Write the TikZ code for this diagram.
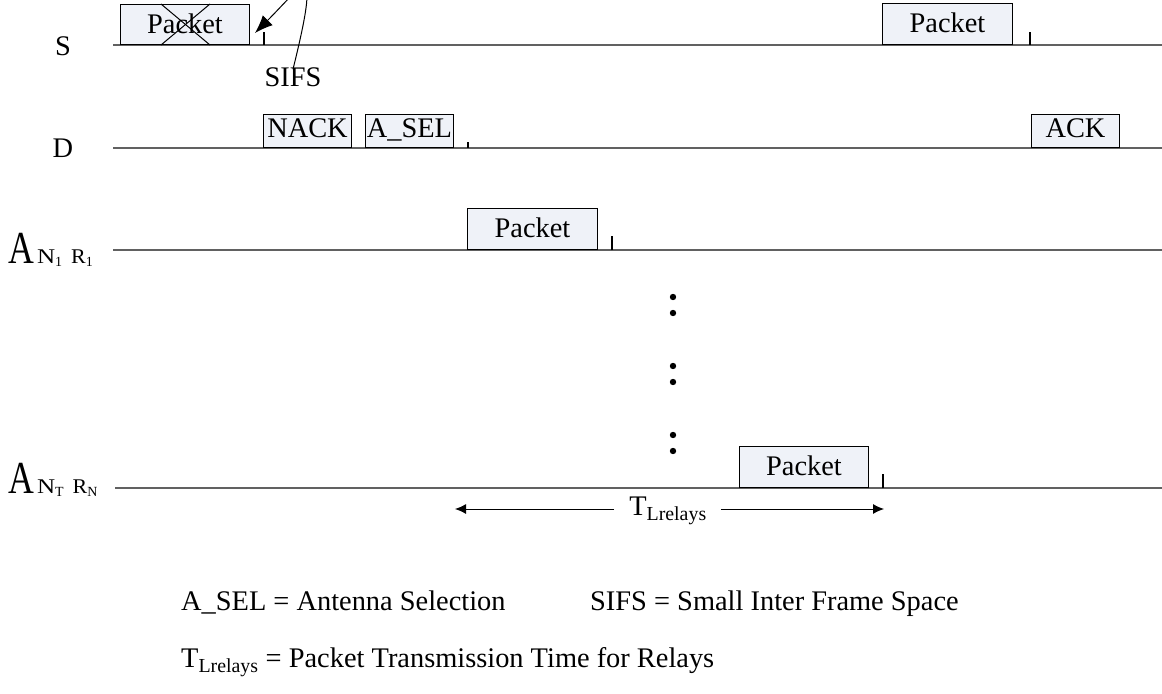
\documentclass[tikz,border=0pt]{standalone}
\usepackage{fontspec}
\setmainfont{Liberation Serif}
\usetikzlibrary{positioning,calc,arrows.meta}

\definecolor{boxfill}{RGB}{239,242,248}
\newcommand{\antlabel}[2]{{\fontsize{46}{46}\selectfont\scalebox{0.78}[1]{A}}\hspace{3bp}{\fontsize{21}{21}\selectfont\scalebox{1.2}[1]{N}\raisebox{-3bp}{\fontsize{14}{14}\selectfont #1}\hspace{9bp}\scalebox{1.05}[1]{R}\raisebox{-3bp}{\fontsize{14}{14}\selectfont #2}}}

\tikzset{
  timeline/.style={draw=black!62, line width=1.6bp},
  pkt/.style={draw, fill=boxfill, line width=1bp, inner sep=0pt, anchor=south west,
    text height=19bp, text depth=1.5bp, font=\fontsize{28.5}{30}\selectfont},
  ctl/.style={pkt, text depth=5bp, minimum height=33bp, minimum width=88bp},
  tickmark/.style={line width=1.5bp},
  lbl/.style={inner sep=0pt, font=\fontsize{28.5}{30}\selectfont},
  dim/.style={line width=1bp, -{Latex[length=11bp,width=10bp]}},
}

\begin{document}
\begin{tikzpicture}[x=1bp,y=-1bp]
\useasboundingbox (0,0) rectangle (1162,694);

% time lines
\coordinate (sL) at (113,45);    \coordinate (sR) at (1162,45);
\coordinate (dL) at (113,148);   \coordinate (dR) at (1162,148);
\coordinate (r1L) at (113,250);  \coordinate (r1R) at (1162,250);
\coordinate (rnL) at (115,488);  \coordinate (rnR) at (1162,488);
\draw[timeline] (sL) -- (sR);
\draw[timeline] (dL) -- (dR);
\draw[timeline] (r1L) -- (r1R);
\draw[timeline] (rnL) -- (rnR);

\node[lbl] (lS) at (63,46) {S};
\node[lbl] (lD) at (63,148) {D};
\node[inner sep=0pt, anchor=base west] (lR1) at (8,263) {\antlabel{1}{1}};
\node[inner sep=0pt, anchor=base west] (lRN) at (8,493) {\antlabel{T}{N}};

% source
\node[pkt, minimum width=129bp, minimum height=40bp] (s1) at (120,45) {Packet};
\draw[line width=1bp] ($(s1.north west)+(41,0)$) -- ($(s1.south west)+(90,0)$);
\draw[line width=1bp] ($(s1.south west)+(41,0)$) -- ($(s1.north west)+(90,0)$);
\draw[tickmark] ($(s1.south east)+(14,0)$) -- ++(0,-13);
\coordinate (sifsTip) at (255,33);
\node[lbl] (sifs) at (293,77) {SIFS};
\draw[line width=1bp, -{Latex[length=18bp,width=14bp]}] ($(sifs.north)+(0,2)$) .. controls (322,-48) and (302,-14) .. (sifsTip);

\node[pkt, minimum width=130bp, minimum height=41bp] (s2) at (882,45) {Packet};
\draw[tickmark] ($(s2.south east)+(17,0)$) -- ++(0,-13);

% destination
\node[ctl] (nack) at (263,148) {NACK};
\node[ctl] (asel) at (365,148) {A\_SEL};
\draw[tickmark] ($(asel.south east)+(14,0)$) -- ++(0,-6);
\node[ctl] (ack) at (1031,148) {ACK};

% relays
\node[pkt, minimum width=130bp, minimum height=41bp] (p1) at (467,250) {Packet};
\draw[tickmark] ($(p1.south east)+(14,0)$) -- ++(0,-14);

\foreach \y in {297,313,366,382,435,451}
  \fill (673,\y) circle (3.2);

\node[pkt, minimum width=129bp, minimum height=41bp] (pn) at (739,488) {Packet};
\draw[tickmark] ($(pn.south east)+(14,0)$) -- ++(0,-14);

% relay transmission time
\coordinate (tL) at (455,509);
\coordinate (tR) at (884,509);
\node[inner sep=0pt, anchor=base, font=\fontsize{28.5}{30}\selectfont] (tlab) at (668,515) {T\textsubscript{Lrelays}};
\draw[dim] ($(tlab.west |- tL)+(-15,0)$) -- (tL);
\draw[dim] ($(tlab.east |- tR)+(14,0)$) -- (tR);

% legend
\node[lbl, anchor=base west] (key1) at (181,610) {A\_SEL = Antenna Selection};
\node[lbl, anchor=base west] (key2) at (590,610) {SIFS = Small Inter Frame Space};
\node[lbl, anchor=base west] (key3) at (181,667) {T\textsubscript{Lrelays} = Packet Transmission Time for Relays};
\end{tikzpicture}
\end{document}
